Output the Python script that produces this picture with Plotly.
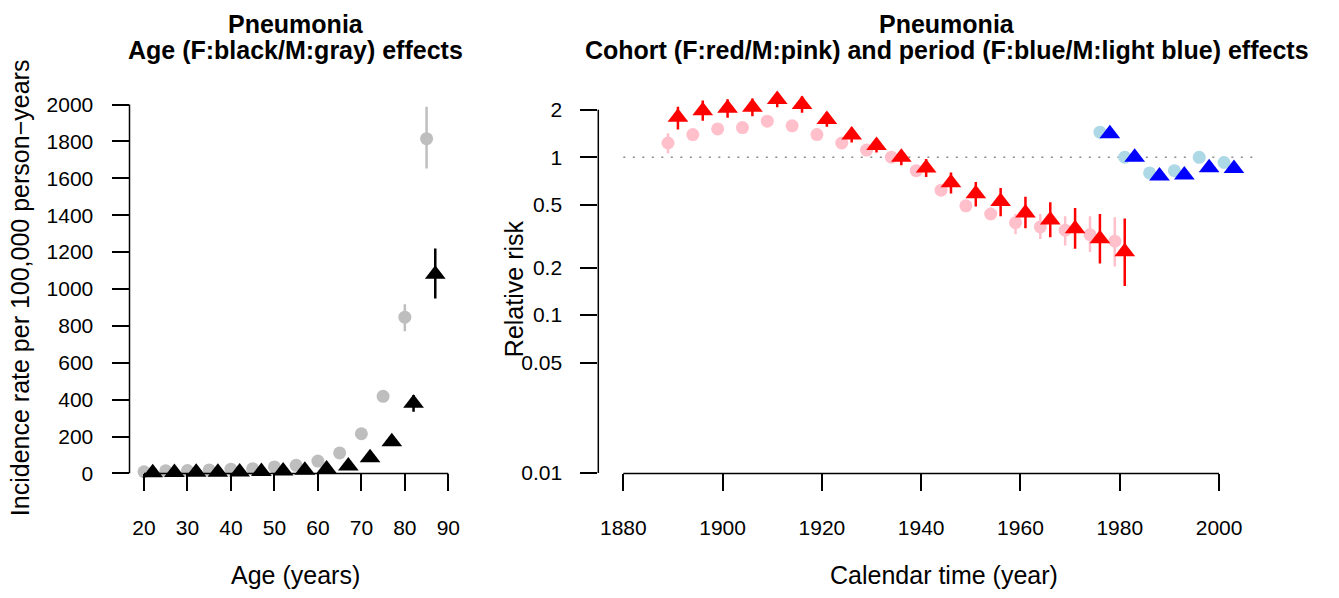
import plotly.graph_objects as go
import numpy as np

W, H = 1339, 598
FONT = "Liberation Sans"

# ---------------- data: age effects (left panel) ----------------
age_mid = [21, 26, 31, 36, 41, 46, 51, 56, 61, 66, 71, 76, 81, 86]
age_m = [9, 14, 16, 19, 23, 26, 35, 44, 67, 111, 215, 418, 847, 1815]
age_m_lo = [7, 12, 14, 17, 21, 24, 32, 40, 62, 104, 203, 398, 771, 1653]
age_m_hi = [11, 16, 18, 21, 25, 28, 38, 48, 72, 118, 228, 438, 917, 1988]
age_f = [4, 5, 6, 7, 8, 10, 13, 17, 24, 40, 85, 172, 380, 1080]
age_f_lo = [3, 4, 5, 6, 7, 9, 11, 15, 21, 36, 78, 160, 335, 949]
age_f_hi = [5, 6, 7, 8, 9, 11, 15, 19, 27, 44, 92, 185, 425, 1220]
age_xticks = [20, 30, 40, 50, 60, 70, 80, 90]
age_yticks = [0, 200, 400, 600, 800, 1000, 1200, 1400, 1600, 1800, 2000]

# ---------------- data: cohort effects (right panel) ----------------
cohort_mid = [1890, 1895, 1900, 1905, 1910, 1915, 1920, 1925, 1930, 1935,
              1940, 1945, 1950, 1955, 1960, 1965, 1970, 1975, 1980]
coh_m = [1.23, 1.39, 1.51, 1.54, 1.69, 1.58, 1.39, 1.23, 1.11, 1.0,
         0.822, 0.618, 0.492, 0.437, 0.385, 0.362, 0.345, 0.323, 0.294]
coh_m_lo = [1.06, 1.32, 1.44, 1.47, 1.61, 1.51, 1.33, 1.18, 1.06, 0.96,
            0.78, 0.585, 0.46, 0.40, 0.325, 0.303, 0.276, 0.251, 0.203]
coh_m_hi = [1.42, 1.46, 1.58, 1.61, 1.77, 1.65, 1.45, 1.28, 1.16, 1.04,
            0.865, 0.655, 0.53, 0.48, 0.437, 0.437, 0.423, 0.423, 0.417]
coh_f = [1.79, 1.97, 2.04, 2.07, 2.32, 2.16, 1.73, 1.38, 1.185, 1.0,
         0.854, 0.689, 0.588, 0.525, 0.443, 0.40, 0.352, 0.305, 0.252]
coh_f_lo = [1.50, 1.70, 1.78, 1.82, 2.07, 1.91, 1.56, 1.24, 1.07, 0.89,
            0.748, 0.589, 0.488, 0.423, 0.355, 0.311, 0.263, 0.212, 0.153]
coh_f_hi = [2.09, 2.29, 2.33, 2.35, 2.60, 2.43, 1.93, 1.54, 1.31, 1.10,
            0.975, 0.80, 0.696, 0.639, 0.5625, 0.519, 0.477, 0.437, 0.409]

# ---------------- data: period effects (right panel) ----------------
period_mid = [1977, 1982, 1987, 1992, 1997, 2002]
per_m = [1.44, 1.0, 0.795, 0.822, 0.998, 0.926]
per_f = [1.41, 1.0, 0.759, 0.772, 0.859, 0.849]

rr_ticks = [0.01, 0.05, 0.1, 0.2, 0.5, 1, 2]
rr_ticktext = ["0.01", "0.05", "0.1", "0.2", "0.5", "1", "2"]
time_ticks = [1880, 1900, 1920, 1940, 1960, 1980, 2000]
ref_value = 1
ref_span = [1880, 2008]

# dodge between male (left) and female (right) points
DODGE = 1.0

def shift(xs, d):
    return [x + d for x in xs]

def err(val, lo, hi):
    v, l, h = np.array(val, float), np.array(lo, float), np.array(hi, float)
    return dict(type="data", symmetric=False, array=list(h - v), arrayminus=list(v - l),
                width=0, thickness=2.5)

CIRC = 13
TRI = 18

fig = go.Figure()

# left panel: age effects
fig.add_trace(go.Scatter(x=shift(age_mid, -DODGE), y=age_m, mode="markers",
                         marker=dict(symbol="circle", size=CIRC, color="#BEBEBE", line=dict(width=0)),
                         error_y=dict(err(age_m, age_m_lo, age_m_hi), color="#BEBEBE"),
                         cliponaxis=False, xaxis="x", yaxis="y"))
fig.add_trace(go.Scatter(x=shift(age_mid, DODGE), y=age_f, mode="markers",
                         marker=dict(symbol="triangle-up", size=TRI, color="black", line=dict(width=0)),
                         error_y=dict(err(age_f, age_f_lo, age_f_hi), color="black"),
                         cliponaxis=False, xaxis="x", yaxis="y"))

# right panel: cohort and period effects
fig.add_trace(go.Scatter(x=shift(cohort_mid, -DODGE), y=coh_m, mode="markers",
                         marker=dict(symbol="circle", size=CIRC, color="#FFC0CB", line=dict(width=0)),
                         error_y=dict(err(coh_m, coh_m_lo, coh_m_hi), color="#FFC0CB"),
                         cliponaxis=False, xaxis="x2", yaxis="y2"))
fig.add_trace(go.Scatter(x=shift(cohort_mid, DODGE), y=coh_f, mode="markers",
                         marker=dict(symbol="triangle-up", size=TRI, color="#FF0000", line=dict(width=0)),
                         error_y=dict(err(coh_f, coh_f_lo, coh_f_hi), color="#FF0000"),
                         cliponaxis=False, xaxis="x2", yaxis="y2"))
fig.add_trace(go.Scatter(x=shift(period_mid, -DODGE), y=per_m, mode="markers",
                         marker=dict(symbol="circle", size=CIRC, color="#ADD8E6", line=dict(width=0)),
                         cliponaxis=False, xaxis="x2", yaxis="y2"))
fig.add_trace(go.Scatter(x=shift(period_mid, DODGE), y=per_f, mode="markers",
                         marker=dict(symbol="triangle-up", size=TRI, color="#0000FF", line=dict(width=0)),
                         cliponaxis=False, xaxis="x2", yaxis="y2"))

# layout geometry (pixels -> paper fractions)
def px(x):
    return x / W

def py(y):
    return 1 - y / H

Y_BOT, Y_TOP = 481.7, 95
ax_common = dict(showline=False, showgrid=False, zeroline=False, ticks="outside",
                 ticklen=17, tickwidth=1.5, tickcolor="black",
                 tickfont=dict(family=FONT, size=21, color="black"))

fig.update_layout(
    width=W, height=H, margin=dict(l=0, r=0, t=0, b=0),
    paper_bgcolor="white", plot_bgcolor="white", showlegend=False,
    xaxis=dict(ax_common, domain=[px(129.5), px(505.7)], range=[16.664, 103.2],
               tickmode="array", tickvals=age_xticks, anchor="y", ticklabelstandoff=18),
    yaxis=dict(ax_common, domain=[py(Y_BOT), py(Y_TOP)], range=[0, 2047.7],
               tickmode="array", tickvals=age_yticks, anchor="x", ticklabelstandoff=14),
    xaxis2=dict(ax_common, domain=[px(598.3), px(1284.1)], range=[1874.96, 2013.1],
                tickmode="array", tickvals=time_ticks, anchor="y2", ticklabelstandoff=18),
    yaxis2=dict(ax_common, type="log", domain=[py(Y_BOT), py(Y_TOP)], range=[-2.0025, 0.389],
                tickmode="array", tickvals=rr_ticks, ticktext=rr_ticktext, anchor="x2",
                ticklabelstandoff=14),
)

# R-style axis lines spanning first to last tick, plus dotted reference line at RR = 1
axis_line = dict(color="black", width=1.5)
shapes = [
    dict(type="line", xref="x", yref="y domain", x0=age_xticks[0], x1=age_xticks[-1], y0=0, y1=0, line=axis_line),
    dict(type="line", xref="x domain", yref="y", x0=0, x1=0, y0=age_yticks[0], y1=age_yticks[-1], line=axis_line),
    dict(type="line", xref="x2", yref="y2 domain", x0=time_ticks[0], x1=time_ticks[-1], y0=0, y1=0, line=axis_line),
    dict(type="line", xref="x2 domain", yref="y2", x0=0, x1=0, y0=rr_ticks[0], y1=rr_ticks[-1], line=axis_line),
    dict(type="line", xref="x2", yref="y2", x0=ref_span[0], x1=ref_span[1], y0=ref_value, y1=ref_value,
         line=dict(color="#8c8c8c", width=1.5, dash="2px,7.5px"), layer="below"),
]
fig.update_layout(shapes=shapes)

def ann(text, x, y, size, angle=0):
    return dict(text=text, x=px(x), y=py(y), xref="paper", yref="paper", showarrow=False,
                xanchor="center", yanchor="middle", textangle=angle,
                font=dict(family=FONT, size=size, color="black"))

annotations = [
    ann("<b>Pneumonia</b>", 295.5, 21.5, 25),
    ann("<b>Age (F:black/M:gray) effects</b>", 295.5, 48, 25),
    ann("<b>Pneumonia</b>", 947, 21.5, 25),
    ann("<b>Cohort (F:red/M:pink) and period (F:blue/M:light blue) effects</b>", 947, 48, 25),
    ann("Age (years)", 295.3, 586, 25),
    ann("Calendar time (year)", 944.3, 586, 25),
    ann("Incidence rate per 100,000 person\u2212years", 20, 292, 25, -90),
    ann("Relative risk", 514, 293, 25, -90),
]
fig.update_layout(annotations=annotations)

fig.write_html("out.html", config={"displayModeBar": False},
               post_script="document.body.style.margin='0';document.body.style.overflow='hidden';")
